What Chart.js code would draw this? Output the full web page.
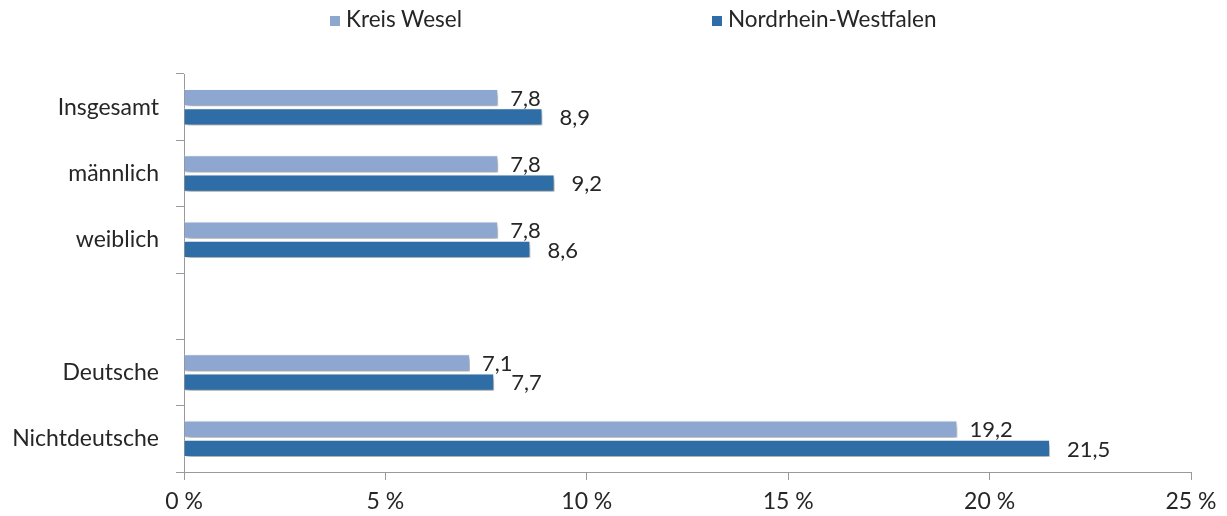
<!DOCTYPE html>
<html>
<head>
<meta charset="utf-8">
<script src="https://cdn.jsdelivr.net/npm/chart.js@4"></script>
<style>
  html, body { margin: 0; padding: 0; background: #fff; }
  #wrap { position: relative; width: 1227px; height: 516px; }
  #legend { position: absolute; top: 5px; left: 0; width: 1227px; height: 28px; font: 22.5px Lato, sans-serif; color: #262626; }
  .item { position: absolute; top: 0; line-height: 28px; white-space: nowrap; }
  .box { display: inline-block; width: 10px; height: 10px; margin-right: 6px; vertical-align: 1px; }
</style>
</head>
<body>
<div id="wrap">
  <div id="legend"></div>
  <canvas id="chart"></canvas>
</div>
<script>
// categories (empty slot is the gap between the two groups)
const categories = ["Insgesamt", "männlich", "weiblich", "", "Deutsche", "Nichtdeutsche"];
const kreisWesel = [7.8, 7.8, 7.8, null, 7.1, 19.2];
const nrw = [8.9, 9.2, 8.6, null, 7.7, 21.5];
const xTicks = [0, 5, 10, 15, 20, 25];

const seriesNames = ["Kreis Wesel", "Nordrhein-Westfalen"];
const seriesColors = ["#8EA7D1", "#2E6DA6"];
const FONT = "Lato, sans-serif";
const TEXT = "#262626";

// legend drawn as html, positions
const legendLeft = [330, 712];
const legend = document.getElementById("legend");
seriesNames.forEach((name, i) => {
    const el = document.createElement("div");
    el.className = "item";
    el.style.left = legendLeft[i] + "px";
    el.innerHTML = '<span class="box" style="background:' + seriesColors[i] + '"></span>' + name;
    legend.appendChild(el);
});

// soft drop shadow under the bars
const barShadow = {
    id: "barShadow",
    beforeDatasetDraw(chart) {
        const ctx = chart.ctx;
        ctx.save();
        ctx.shadowColor = "rgba(0,0,0,0.4)";
        ctx.shadowBlur = 5;
        ctx.shadowOffsetX = 2;
        ctx.shadowOffsetY = 3;
    },
    afterDatasetDraw(chart) {
        chart.ctx.restore();
    }
};

// value labels right of each bar, german decimal comma
const valueLabels = {
    id: "valueLabels",
    afterDatasetsDraw(chart) {
        const ctx = chart.ctx;
        const offsets = [12, 17];
        ctx.save();
        ctx.font = "22px " + FONT;
        ctx.fillStyle = TEXT;
        ctx.textAlign = "left";
        ctx.textBaseline = "middle";
        chart.data.datasets.forEach((ds, di) => {
            chart.getDatasetMeta(di).data.forEach((bar, i) => {
                const v = ds.data[i];
                if (v == null) return;
                ctx.fillText(v.toFixed(1).replace(".", ","), bar.x + offsets[di], bar.y + 1);
            });
        });
        ctx.restore();
    }
};

new Chart(document.getElementById("chart"), {
    type: "bar",
    data: {
        labels: categories,
        datasets: [
            { label: seriesNames[0], data: kreisWesel, backgroundColor: seriesColors[0] },
            { label: seriesNames[1], data: nrw, backgroundColor: seriesColors[1] }
        ]
    },
    options: {
        indexAxis: "y",
        responsive: true,
        maintainAspectRatio: false,
        animation: false,
        layout: { padding: { top: 74, right: 36, left: 0, bottom: 0 } },
        datasets: {
            bar: {
                categoryPercentage: 0.58,
                barPercentage: 0.9,
                borderWidth: 1,
                borderColor: "#fff",
                borderSkipped: "start"
            }
        },
        plugins: {
            legend: { display: false },
            tooltip: { enabled: false }
        },
        scales: {
            x: {
                min: 0, max: 25,
                afterBuildTicks: s => { s.ticks = xTicks.map(v => ({ value: v })); },
                afterFit: s => { s.height = 44; },
                grid: { drawOnChartArea: false, tickLength: 8, color: "#999" },
                border: { color: "#999" },
                ticks: { color: TEXT, font: { family: FONT, size: 23 }, padding: 8, callback: v => v + " %" }
            },
            y: {
                afterFit: s => { s.width = 184; },
                grid: { offset: true, drawOnChartArea: false, tickLength: 8, color: "#999" },
                border: { color: "#999" },
                ticks: { color: TEXT, font: { family: FONT, size: 23 }, padding: 17 }
            }
        }
    },
    plugins: [barShadow, valueLabels]
});
</script>
</body>
</html>
